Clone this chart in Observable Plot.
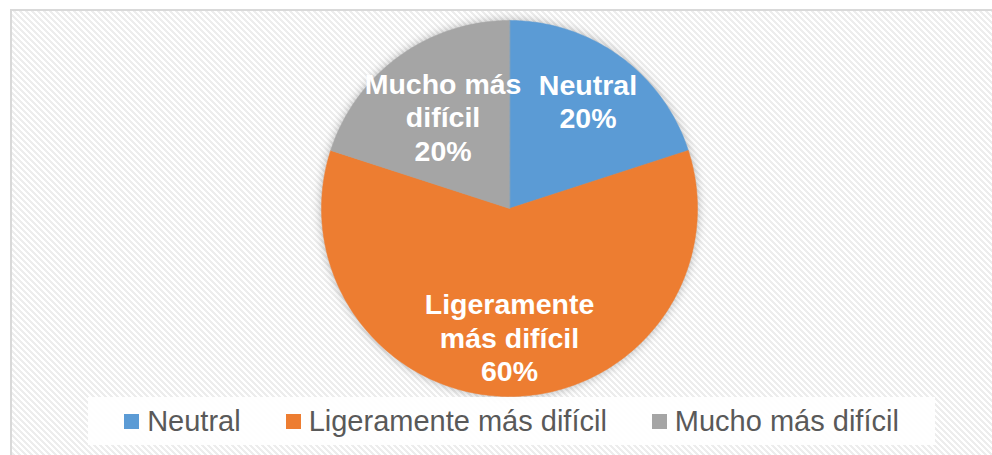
<!DOCTYPE html>
<html>
<head>
<meta charset="utf-8">
<script src="https://cdn.jsdelivr.net/npm/d3@7"></script>
<script src="https://cdn.jsdelivr.net/npm/@observablehq/plot@0.6"></script>
<style>
  html, body { margin: 0; padding: 0; overflow: hidden; width: 992px; height: 455px; background: #fff; }
  #frame {
    position: absolute; left: 10px; top: 9px; width: 1000px; height: 470px;
    border: 2px solid #d9d9d9;
    background: repeating-linear-gradient(45deg, #ffffff 0px, #ffffff 2.1px, #ededed 2.1px, #ededed 4.24px);
  }
  #chart { position: absolute; left: 0; top: 0; }
  #chart svg { overflow: visible; }
  #chart g[aria-label="line"] { filter: drop-shadow(0 0 5px rgba(0,0,0,0.28)); }
  #legend {
    position: absolute; left: 88px; top: 397px; width: 847px; height: 48px;
    background: rgba(255,255,255,0.92);
    display: flex; justify-content: center; align-items: center; gap: 45px;
    font-family: "Liberation Sans", Arial, sans-serif; font-size: 29px; color: #595959;
  }
  .item { display: flex; align-items: center; white-space: nowrap; }
  .sw { width: 15px; height: 15px; margin-right: 8px; display: inline-block; }
</style>
</head>
<body>
<div id="frame"></div>
<div id="chart"></div>
<div id="legend"></div>
<script>
// ---- data ----
const categories = ["Neutral", "Ligeramente más difícil", "Mucho más difícil"];
const values = [20, 60, 20];
const colors = ["#5B9BD5", "#ED7D31", "#A5A5A5"];
const labelLines = [["Neutral"], ["Ligeramente", "más difícil"], ["Mucho más", "difícil"]];

// ---- pie geometry (derived from data) ----
const total = d3.sum(values);
const arcs = d3.pie().sort(null).value(d => d.value)(
  categories.map((c, i) => ({category: c, value: values[i], lines: labelLines[i]}))
);
const points = [];
for (const a of arcs) {
  const n = Math.max(2, Math.ceil((a.endAngle - a.startAngle) / (Math.PI / 180)));
  points.push({cat: a.data.category, x: 0, y: 0});
  for (let k = 0; k <= n; k++) {
    const t = a.startAngle + (a.endAngle - a.startAngle) * k / n;
    points.push({cat: a.data.category, x: Math.sin(t), y: Math.cos(t)});
  }
}
const labelR = 0.71;
const nudges = {"Neutral": [0, 0], "Ligeramente más difícil": [0, -5], "Mucho más difícil": [12, 16]};

const labelMarks = arcs.map(a => {
  const mid = (a.startAngle + a.endAngle) / 2;
  const [dx, dy] = nudges[a.data.category];
  return Plot.text([a], {
    x: () => labelR * Math.sin(mid),
    y: () => labelR * Math.cos(mid),
    text: d => [...d.data.lines, `${Math.round(d.data.value / total * 100)}%`].join("\n"),
    fill: "white",
    fontSize: 28.5,
    fontWeight: "bold",
    fontFamily: "Liberation Sans, Arial, sans-serif",
    lineHeight: 1.17,
    dx, dy
  });
});

const chart = Plot.plot({
  width: 992,
  height: 397,
  marginLeft: 321,
  marginRight: 295,
  marginTop: 20,
  marginBottom: 1,
  style: {background: "transparent", overflow: "visible"},
  x: {domain: [-1, 1], axis: null},
  y: {domain: [-1, 1], axis: null},
  color: {domain: categories, range: colors},
  marks: [
    Plot.line(points, {x: "x", y: "y", z: "cat", fill: "cat", stroke: "cat", strokeWidth: 0.5, curve: "linear-closed"}),
    ...labelMarks
  ]
});
document.getElementById("chart").appendChild(chart);

// ---- legend ----
const legend = document.getElementById("legend");
categories.forEach((c, i) => {
  const item = document.createElement("div");
  item.className = "item";
  const sw = document.createElement("span");
  sw.className = "sw";
  sw.style.background = colors[i];
  item.appendChild(sw);
  item.appendChild(document.createTextNode(c));
  legend.appendChild(item);
});
</script>
</body>
</html>
